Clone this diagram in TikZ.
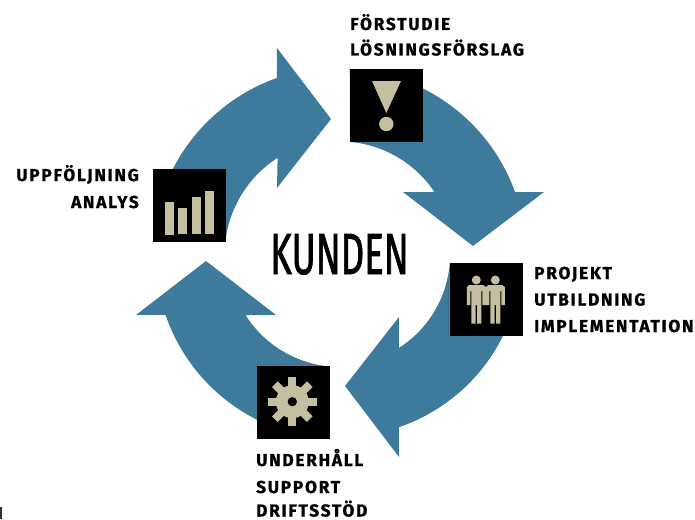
\documentclass[tikz,border=0pt]{standalone}
\usepackage{fontspec}
\setmainfont{Fira Sans}
\newfontfamily\lblfont[LetterSpace=10,BoldFeatures={FakeBold=0.9}]{Fira Sans}
\newfontfamily\kfont[FakeBold=1.6]{Fira Sans}
\definecolor{cyc}{HTML}{3E7A9B}
\definecolor{tan}{HTML}{C4BFA0}
\tikzset{
  lbl/.style={inner sep=0pt,anchor=base west,font=\lblfont\bfseries\fontsize{17.3}{17.3}\selectfont,text=black},
  lblr/.style={lbl,anchor=base east},
  cycarrow/.style={fill=cyc,draw=none},
  iconbox/.style={fill=black,draw=none,minimum size=73pt,inner sep=0pt,outer sep=0pt,anchor=north west},
  icon/.style={fill=tan,draw=none}
}
\begin{document}
\begin{tikzpicture}[x=1pt,y=-1pt]
\useasboundingbox (0,0) rectangle (695,519);
% arrows
\fill[cycarrow] plot[domain=-87:-19.9,samples=40] ({340+186*cos(\x)},{255+186*sin(\x)}) -- (514,192) -- (544,192) -- (473,246) -- (403,192) -- (435,192) -- plot[domain=-33.5:-85,samples=30] ({340+113.5*cos(\x)},{255+113.5*sin(\x)}) -- cycle;
\fill[cycarrow] plot[domain=15:71.1,samples=40] ({340+182*cos(\x)},{255+182*sin(\x)}) -- (399,457) -- (345,386) -- (399,317) -- plot[domain=57.6:4.2,samples=30] ({340+110*cos(\x)},{255+110*sin(\x)}) -- cycle;
\fill[cycarrow] plot[domain=100:161.1,samples=40] ({340+184.5*cos(\x)},{255+184.5*sin(\x)}) -- (136,315) -- (206,261) -- (276,315) -- (245,315) -- plot[domain=147.7:96.7,samples=30] ({340+112*cos(\x)},{255+112*sin(\x)}) -- cycle;
\fill[cycarrow] plot[domain=195:250.4,samples=40] ({340+188*cos(\x)},{255+188*sin(\x)}) -- (277,48) -- (331,119) -- (277,188) -- plot[domain=237.3:187,samples=30] ({340+115.5*cos(\x)},{255+115.5*sin(\x)}) -- cycle;
% boxes
\node[iconbox] (boxA) at (350,69) {};
\node[iconbox] (boxB) at (450,263) {};
\node[iconbox] (boxC) at (257,366) {};
\node[iconbox] (boxD) at (153,169) {};
% exclamation
\fill[icon] (372,81) -- (401,81) -- (386.3,113) -- cycle;
\fill[icon] (386.3,124) circle[radius=7.2];
% people
\foreach \c in {476.3,495.3}{
  \fill[icon] (\c,280) circle[radius=4.5];
  \fill[icon] ({\c-7},285) -- ({\c+7},285) -- ({\c+9.5},287) -- ({\c+9.5},305) -- ({\c+6},305) -- ({\c+6},291) -- ({\c+5},291) -- ({\c+5},323.5) -- ({\c+0.7},323.5) -- ({\c+0.7},305) -- ({\c-0.7},305) -- ({\c-0.7},323.5) -- ({\c-5},323.5) -- ({\c-5},291) -- ({\c-6},291) -- ({\c-6},305) -- ({\c-9.5},305) -- ({\c-9.5},287) -- cycle;
}
% gear
\fill[icon,even odd rule] (292.3,401.7) circle[radius=16.5] (292.3,401.7) circle[radius=4.8];
\foreach \a in {0,45,...,315}{
  \fill[icon,shift={(292.3,401.7)},rotate=\a] (15,-4) -- (24.7,-4) -- (24.7,4) -- (15,4) -- cycle;
}
% bars
\fill[icon] (165,202) rectangle (174,235);
\fill[icon] (178,208) rectangle (187,234);
\fill[icon] (192,197) rectangle (201,234);
\fill[icon] (205,191) rectangle (214,234);
% labels
\node[lbl] (la1) at (350,30) {FÖRSTUDIE};
\node[lbl] (la2) at (350,55.5) {LÖSNINGSFÖRSLAG};
\node[lbl] (lb1) at (534,279) {PROJEKT};
\node[lbl] (lb2) at (534,305.5) {UTBILDNING};
\node[lbl] (lb3) at (534,332) {IMPLEMENTATION};
\node[lbl] (lc1) at (256,466) {UNDERHÅLL};
\node[lbl] (lc2) at (256,493) {SUPPORT};
\node[lbl] (lc3) at (256,516.5) {DRIFTSSTÖD};
\node[lblr] (ld1) at (139,181) {UPPFÖLJNING};
\node[lblr] (ld2) at (139,208) {ANALYS};
\node[inner sep=0pt,anchor=base,xscale=0.63,font=\kfont\fontsize{58}{58}\selectfont] (center) at (339.5,274) {KUNDEN};
% stray mark at the lower edge
\fill[black!80] (0,507) rectangle (1.6,519);
\end{tikzpicture}
\end{document}
